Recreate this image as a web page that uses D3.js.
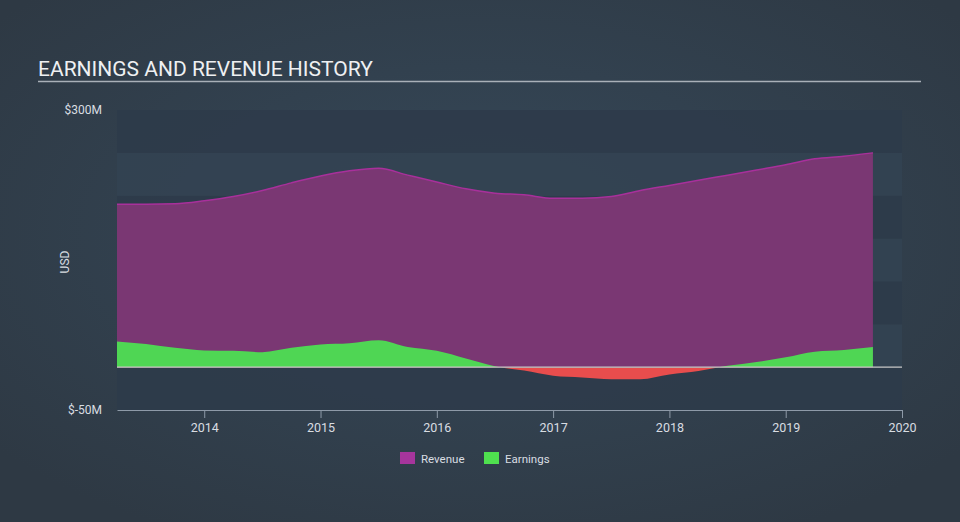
<!doctype html>
<html>
  <head>
    <script src="https://d3js.org/d3.v7.min.js"></script>
    <style>
      body { margin: 0; background: #333f4c; }
      text { font-family: Roboto, "Open Sans", sans-serif; }
    </style>
  </head>
  <body>
    <svg id="chart" width="960" height="522"></svg>
    <script>
      /* quarterly data points (decimal year) */
      var dates = [2013.25, 2013.5, 2013.75, 2014, 2014.25, 2014.5, 2014.75, 2015, 2015.25, 2015.5,
                   2015.75, 2016, 2016.25, 2016.5, 2016.75, 2017, 2017.25, 2017.5, 2017.75, 2018,
                   2018.25, 2018.5, 2018.75, 2019, 2019.25, 2019.5, 2019.75];
      /* values in $M */
      var revenue = [190, 190, 190.5, 194, 199, 206, 215, 223, 229, 232,
                     224, 216, 208, 203, 201, 197, 197, 199, 206, 212,
                     218, 224, 230, 236, 243, 246, 250];
      var earnings = [30, 27, 22.5, 19.5, 19, 17.5, 22.5, 26.5, 28, 31.5,
                      23.5, 19, 10, 1, -4, -10, -12, -14, -14, -8.5,
                      -4.5, 1.5, 6, 11.5, 18, 20, 23.5];
      var yearTicks = [2014, 2015, 2016, 2017, 2018, 2019, 2020];
      var yLabels = [300, -50];
      var legendItems = ["Revenue", "Earnings"];

      var svg = d3.select("#chart");

      /* background vignette */
      var defs = svg.append("defs");
      var grad = defs.append("radialGradient").attr("id", "bg")
        .attr("cx", "50%").attr("cy", "45%").attr("r", "65%");
      grad.append("stop").attr("offset", "0%").attr("stop-color", "#36495a");
      grad.append("stop").attr("offset", "100%").attr("stop-color", "#2e3944");
      svg.append("rect").attr("width", 960).attr("height", 522).attr("fill", "url(#bg)");

      var x = d3.scaleLinear().domain([2013.25, 2020]).range([117, 902]);
      var y = d3.scaleLinear().domain([-50, 300]).range([410, 110]);

      /* horizontal bands every 50M, darker at top and bottom */
      var bands = d3.range(-50, 300, 50);
      svg.selectAll("rect.band").data(bands).enter().append("rect")
        .attr("class", "band")
        .attr("x", x(2013.25)).attr("width", x(2020) - x(2013.25))
        .attr("y", function(d) { return y(d + 50); })
        .attr("height", function(d) { return y(d) - y(d + 50); })
        .attr("fill", function(d) { return ((d + 50) / 50) % 2 === 0 ? "#2e3b4a" : "#334352"; })
        .attr("fill-opacity", 0.9);

      var rev = dates.map(function(d, i) { return { x: d, v: revenue[i] }; });
      var ear = dates.map(function(d, i) { return { x: d, v: earnings[i] }; });

      var curve = d3.curveMonotoneX;

      var revArea = d3.area().curve(curve)
        .x(function(d) { return x(d.x); })
        .y0(y(0)).y1(function(d) { return y(d.v); });
      var revLine = d3.line().curve(curve)
        .x(function(d) { return x(d.x); })
        .y(function(d) { return y(d.v); });

      svg.append("path").datum(rev).attr("d", revArea).attr("fill", "#7a3773");
      svg.append("path").datum(rev).attr("d", revLine)
        .attr("fill", "none").attr("stroke", "#a8309b").attr("stroke-width", 1.5);

      /* earnings: green above zero, red below */
      defs.append("clipPath").attr("id", "above").append("rect")
        .attr("x", 0).attr("y", 0).attr("width", 960).attr("height", y(0));
      defs.append("clipPath").attr("id", "below").append("rect")
        .attr("x", 0).attr("y", y(0)).attr("width", 960).attr("height", 522 - y(0));

      var earArea = d3.area().curve(curve)
        .x(function(d) { return x(d.x); })
        .y0(y(0)).y1(function(d) { return y(d.v); });

      svg.append("path").datum(ear).attr("d", earArea)
        .attr("fill", "#4fd654").attr("clip-path", "url(#above)");
      svg.append("path").datum(ear).attr("d", earArea)
        .attr("fill", "#e84d4d").attr("clip-path", "url(#below)");

      /* zero line */
      svg.append("line")
        .attr("x1", x(2013.25)).attr("x2", x(2020))
        .attr("y1", y(0)).attr("y2", y(0))
        .attr("stroke", "#c8c8c8").attr("stroke-width", 1.2);

      /* x axis */
      var xAxis = d3.axisBottom(x).tickValues(yearTicks).tickFormat(d3.format("d"))
        .tickSize(8).tickSizeOuter(0);
      var gx = svg.append("g").attr("transform", "translate(0," + y(-50) + ")").call(xAxis);
      gx.select(".domain").attr("stroke", "#8e9aa8");
      gx.selectAll(".tick line").attr("stroke", "#8e9aa8");
      gx.selectAll(".tick text").attr("fill", "#d9dde2").attr("font-size", 12.5).attr("dy", "0.9em");

      /* y labels */
      svg.selectAll("text.ylab").data(yLabels).enter().append("text")
        .attr("class", "ylab")
        .attr("x", 102).attr("y", function(d) { return y(d) + 4; })
        .attr("text-anchor", "end").attr("fill", "#d9dde2").attr("font-size", 12)
        .text(function(d) { return "$" + d + "M"; });

      svg.append("text").attr("transform", "translate(69,262) rotate(-90)")
        .attr("text-anchor", "middle").attr("fill", "#d9dde2").attr("font-size", 12)
        .text("USD");

      /* title */
      svg.append("text").attr("x", 38).attr("y", 76)
        .attr("fill", "#eef0f2").attr("font-size", 21)
        .text("EARNINGS AND REVENUE HISTORY");
      svg.append("line").attr("x1", 38).attr("x2", 921).attr("y1", 81.5).attr("y2", 81.5)
        .attr("stroke", "#a9b0b8").attr("stroke-width", 1.5);

      /* legend */
      var colors = ["#a6359c", "#4fe04f"];
      var lg = svg.selectAll("g.leg").data(legendItems).enter().append("g")
        .attr("class", "leg")
        .attr("transform", function(d, i) { return "translate(" + (400 + i * 84) + ",452)"; });
      lg.append("rect").attr("width", 15).attr("height", 12)
        .attr("fill", function(d, i) { return colors[i]; });
      lg.append("text").attr("x", 21).attr("y", 10.5)
        .attr("fill", "#d9dde2").attr("font-size", 11.5)
        .text(function(d) { return d; });
    </script>
  </body>
</html>
